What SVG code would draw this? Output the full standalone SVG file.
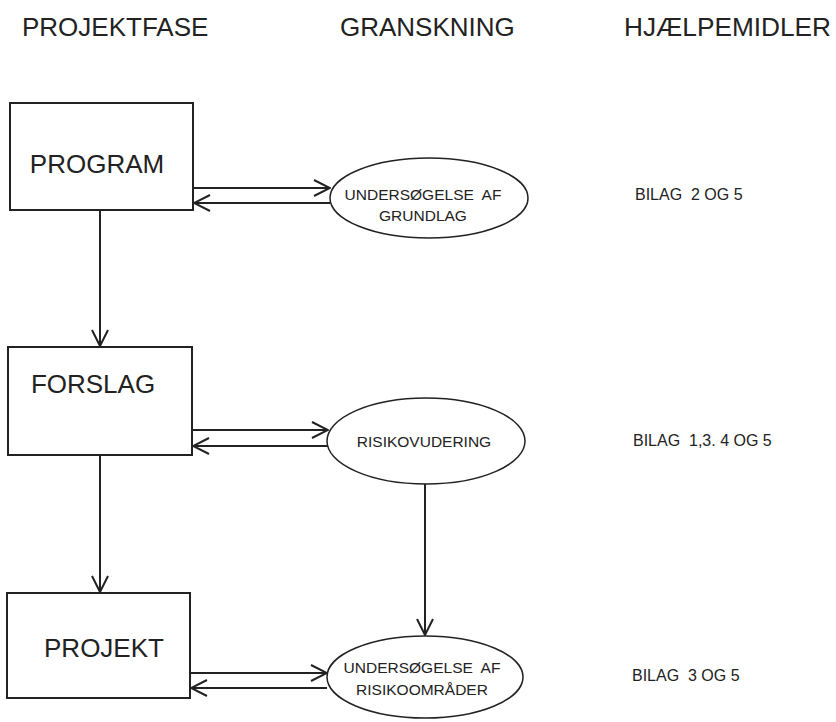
<svg xmlns="http://www.w3.org/2000/svg" width="836" height="722" viewBox="0 0 836 722">
<style>
.hdr{font-family:"Liberation Sans",Arial,sans-serif;font-size:26px;fill:#222}
.box{fill:#fff;stroke:#222;stroke-width:2}
.blab{font-family:"Liberation Sans",Arial,sans-serif;font-size:26px;fill:#222;text-anchor:middle}
.ell{fill:#fff;stroke:#222;stroke-width:1.5}
.elab{font-family:"Liberation Sans",Arial,sans-serif;font-size:15.5px;fill:#222;text-anchor:middle}
.bil{font-family:"Liberation Sans",Arial,sans-serif;font-size:16px;fill:#222}
.ln{fill:none;stroke:#222;stroke-width:2}
</style>
<defs>
<marker id="ah" viewBox="0 0 18 18" refX="17" refY="9" markerWidth="18" markerHeight="18" markerUnits="userSpaceOnUse" orient="auto">
<path d="M1,1 L17,9 L1,17" fill="none" stroke="#222" stroke-width="2"/>
</marker>
</defs>
<g id="headers">
<text class="hdr" x="22" y="36">PROJEKTFASE</text>
<text class="hdr" x="340" y="36">GRANSKNING</text>
<text class="hdr" x="624" y="36" textLength="207" lengthAdjust="spacingAndGlyphs">HJÆLPEMIDLER</text>
</g>
<g id="connectors">
<line class="ln" x1="100" y1="210" x2="100" y2="346" marker-end="url(#ah)"/>
<line class="ln" x1="100" y1="455" x2="100" y2="592" marker-end="url(#ah)"/>
<line class="ln" x1="193" y1="188" x2="330" y2="188" marker-end="url(#ah)"/>
<line class="ln" x1="330" y1="203" x2="194" y2="203" marker-end="url(#ah)"/>
<line class="ln" x1="192" y1="430" x2="328" y2="430" marker-end="url(#ah)"/>
<line class="ln" x1="328" y1="446" x2="193" y2="446" marker-end="url(#ah)"/>
<line class="ln" x1="190" y1="673" x2="327" y2="673" marker-end="url(#ah)"/>
<line class="ln" x1="327" y1="688" x2="191" y2="688" marker-end="url(#ah)"/>
<line class="ln" x1="425" y1="484" x2="425" y2="635" stroke-width="1.5" marker-end="url(#ah)"/>
</g>
<g id="program">
<rect class="box" x="10" y="103" width="183" height="107"/>
<text class="blab" x="97" y="173">PROGRAM</text>
</g>
<g id="forslag">
<rect class="box" x="8" y="347" width="184" height="108"/>
<text class="blab" x="93" y="393">FORSLAG</text>
</g>
<g id="projekt">
<rect class="box" x="7" y="593" width="183" height="105"/>
<text class="blab" x="104" y="657">PROJEKT</text>
</g>
<g id="undersoegelse-grundlag">
<ellipse class="ell" cx="429" cy="198" rx="99" ry="40"/>
<text class="elab" x="423" y="200" xml:space="preserve">UNDERSØGELSE  AF</text>
<text class="elab" x="423" y="221">GRUNDLAG</text>
</g>
<g id="risikovudering">
<ellipse class="ell" cx="426" cy="441" rx="99" ry="43"/>
<text class="elab" x="424" y="447">RISIKOVUDERING</text>
</g>
<g id="undersoegelse-risiko">
<ellipse class="ell" cx="425" cy="677" rx="98" ry="41"/>
<text class="elab" x="422" y="673" xml:space="preserve">UNDERSØGELSE  AF</text>
<text class="elab" x="422" y="695">RISIKOOMRÅDER</text>
</g>
<g id="bilag">
<text class="bil" x="635" y="200" xml:space="preserve">BILAG  2 OG 5</text>
<text class="bil" x="633" y="446" xml:space="preserve">BILAG  1,3. 4 OG 5</text>
<text class="bil" x="632" y="681" xml:space="preserve">BILAG  3 OG 5</text>
</g>
</svg>
